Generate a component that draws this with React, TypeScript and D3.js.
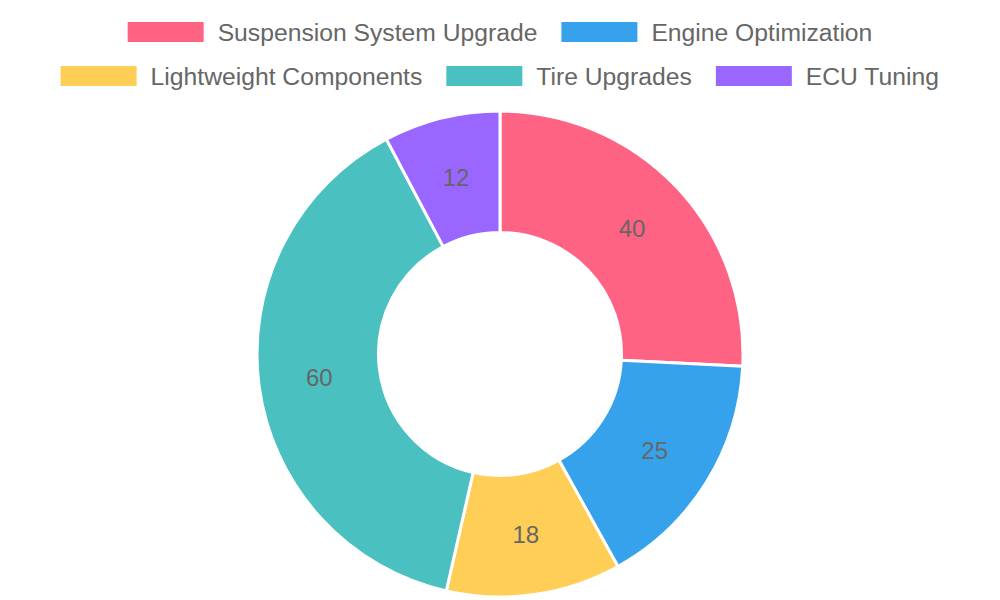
import { useEffect, useRef } from 'react';
import * as d3 from 'd3';

const categories = [
  'Suspension System Upgrade',
  'Engine Optimization',
  'Lightweight Components',
  'Tire Upgrades',
  'ECU Tuning',
];
const values = [40, 25, 18, 60, 12];
const colors = ['#FF6384', '#36A2EB', '#FFCE56', '#4BC0C0', '#9966FF'];

const width = 1000;
const height = 600;
const fontFamily = "'Helvetica Neue', Helvetica, Arial, 'Liberation Sans', sans-serif";

export default function App() {
  const svgRef = useRef<SVGSVGElement>(null);

  useEffect(() => {
    if (!svgRef.current) {
      return;
    }
    document.body.style.margin = '0';

    const svg = d3.select(svgRef.current);
    svg.selectAll('*').remove();

    // legend, wrapped into centered rows like chart.js does
    const legendFont = 24.7;
    const boxW = 76;
    const boxH = 20;
    const boxGap = 14;
    const itemGap = 24;
    const rowH = 44;
    const firstRowY = 32;

    const canvas = document.createElement('canvas');
    const ctx = canvas.getContext('2d')!;
    ctx.font = `${legendFont}px ${fontFamily}`;
    const itemWidths = categories.map((c) => boxW + boxGap + ctx.measureText(c).width);

    const rows: number[][] = [];
    let current: number[] = [];
    let currentW = 0;
    itemWidths.forEach((w, i) => {
      const next = current.length ? currentW + itemGap + w : w;
      if (next > width - 20 && current.length) {
        rows.push(current);
        current = [i];
        currentW = w;
      } else {
        current.push(i);
        currentW = next;
      }
    });
    if (current.length) rows.push(current);

    const legend = svg.append('g');
    rows.forEach((row, r) => {
      const total = row.reduce((s, i) => s + itemWidths[i], 0) + itemGap * (row.length - 1);
      let x = (width - total) / 2;
      const cy = firstRowY + r * rowH;
      row.forEach((i) => {
        legend
          .append('rect')
          .attr('x', x)
          .attr('y', cy - boxH / 2)
          .attr('width', boxW)
          .attr('height', boxH)
          .attr('fill', colors[i]);
        legend
          .append('text')
          .attr('x', x + boxW + boxGap)
          .attr('y', cy)
          .attr('dy', '0.35em')
          .attr('fill', '#666')
          .style('font-family', fontFamily)
          .style('font-size', `${legendFont}px`)
          .text(categories[i]);
        x += itemWidths[i] + itemGap;
      });
    });

    // doughnut
    const cx = 500;
    const cy = 354;
    const outer = 243;
    const inner = outer * 0.5;

    const pie = d3
      .pie<number>()
      .sort(null)
      .value((d) => d);
    const arcs = pie(values);

    const arc = d3
      .arc<d3.PieArcDatum<number>>()
      .innerRadius(inner)
      .outerRadius(outer);

    const g = svg.append('g').attr('transform', `translate(${cx},${cy})`);

    g.selectAll('path')
      .data(arcs)
      .enter()
      .append('path')
      .attr('d', arc)
      .attr('fill', (_d, i) => colors[i])
      .attr('stroke', '#fff')
      .attr('stroke-width', 3)
      .attr('stroke-linejoin', 'round');

    g.selectAll('text')
      .data(arcs)
      .enter()
      .append('text')
      .attr('transform', (d) => `translate(${arc.centroid(d)})`)
      .attr('text-anchor', 'middle')
      .attr('dy', '0.35em')
      .attr('fill', '#666')
      .style('font-family', fontFamily)
      .style('font-size', '24px')
      .text((d) => String(d.data));
  }, []);

  return <svg ref={svgRef} width={width} height={height} style={{ display: 'block' }} />;
}
